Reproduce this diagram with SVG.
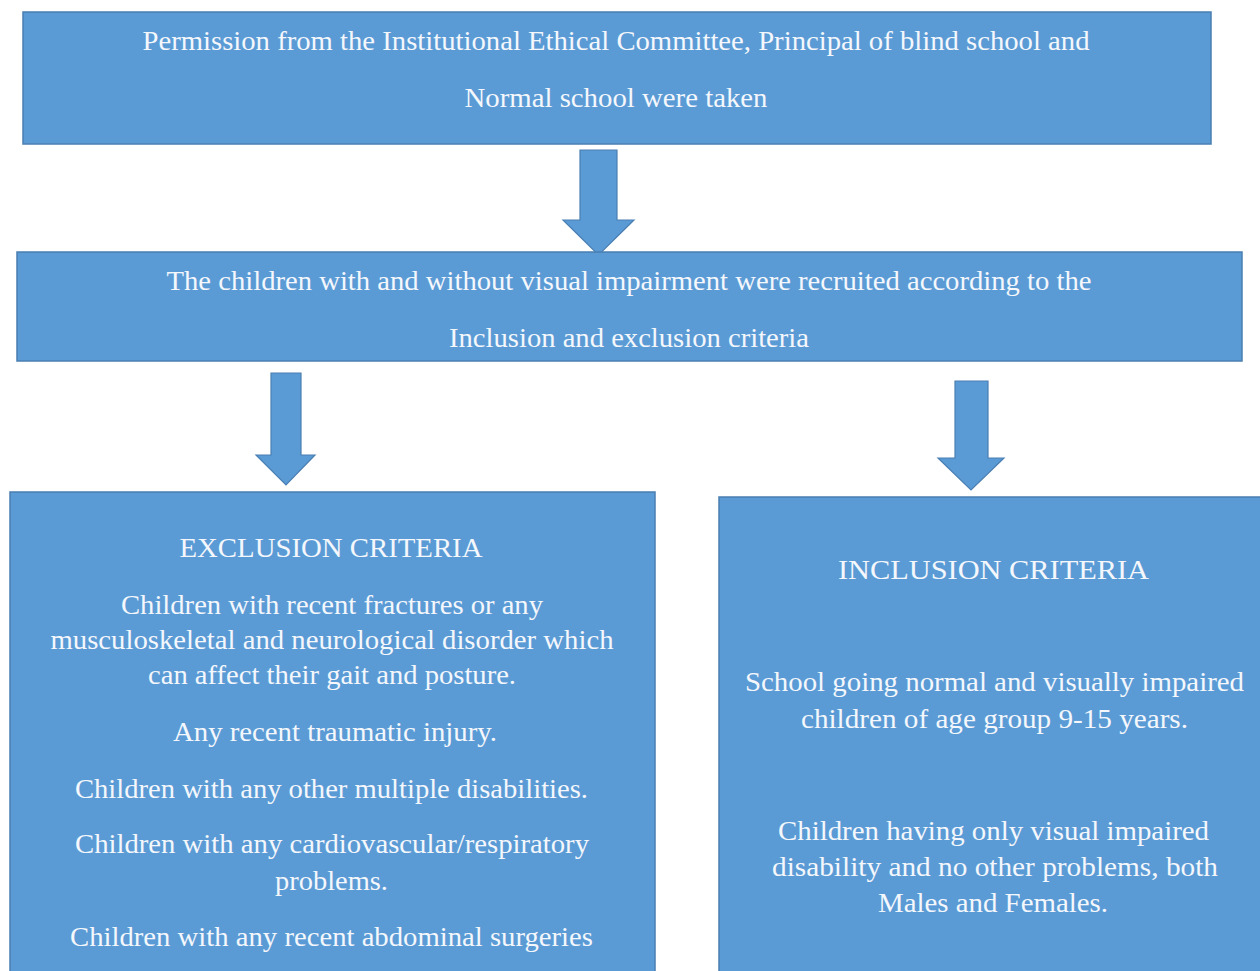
<svg xmlns="http://www.w3.org/2000/svg" width="1260" height="971" viewBox="0 0 1260 971">
  <style>
    .box { fill: #5b9bd5; stroke: #4a7fb3; stroke-width: 1.5; }
    .arrow { fill: #5b9bd5; stroke: #4a7fb3; stroke-width: 1.2; stroke-linejoin: miter; }
    .t { font-family: "Liberation Serif", "Times New Roman", serif; font-size: 27.5px; fill: #f4f7fc; text-anchor: middle; }
  </style>
  <rect width="1260" height="971" fill="#ffffff"/>

  <!-- flow arrows -->
  <g id="connectors">
    <polygon class="arrow" points="580,150 617,150 617,220 634,220 598.5,255 563,220 580,220"/>
    <polygon class="arrow" points="271,373 301,373 301,455 315,455 286,485 256,455 271,455"/>
    <polygon class="arrow" points="955,381 988,381 988,458 1004,458 971,490 938,458 955,458"/>
  </g>

  <g id="permission">
    <rect class="box" x="23" y="12" width="1188" height="132"/>
    <text class="t" x="616" y="50" textLength="947" lengthAdjust="spacingAndGlyphs">Permission from the Institutional Ethical Committee, Principal of blind school and</text>
    <text class="t" x="616" y="107" textLength="303" lengthAdjust="spacingAndGlyphs">Normal school were taken</text>
  </g>

  <g id="recruitment">
    <rect class="box" x="17" y="252" width="1225" height="109"/>
    <text class="t" x="629" y="290" textLength="925" lengthAdjust="spacingAndGlyphs">The children with and without visual impairment were recruited according to the</text>
    <text class="t" x="629" y="347" textLength="360" lengthAdjust="spacingAndGlyphs">Inclusion and exclusion criteria</text>
  </g>

  <g id="exclusion">
    <rect class="box" x="10" y="492" width="645" height="490"/>
    <text class="t" x="331" y="557" textLength="303" lengthAdjust="spacingAndGlyphs">EXCLUSION CRITERIA</text>
    <text class="t" x="332" y="614" textLength="422" lengthAdjust="spacingAndGlyphs">Children with recent fractures or any</text>
    <text class="t" x="332" y="649" textLength="563" lengthAdjust="spacingAndGlyphs">musculoskeletal and neurological disorder which</text>
    <text class="t" x="332" y="684" textLength="368" lengthAdjust="spacingAndGlyphs">can affect their gait and posture.</text>
    <text class="t" x="335" y="741" textLength="324" lengthAdjust="spacingAndGlyphs">Any recent traumatic injury.</text>
    <text class="t" x="331.5" y="798" textLength="513" lengthAdjust="spacingAndGlyphs">Children with any other multiple disabilities.</text>
    <text class="t" x="332" y="853" textLength="514" lengthAdjust="spacingAndGlyphs">Children with any cardiovascular/respiratory</text>
    <text class="t" x="331.5" y="890" textLength="113" lengthAdjust="spacingAndGlyphs">problems.</text>
    <text class="t" x="331.5" y="946" textLength="523" lengthAdjust="spacingAndGlyphs">Children with any recent abdominal surgeries</text>
  </g>

  <g id="inclusion">
    <rect class="box" x="719" y="497" width="560" height="490"/>
    <text class="t" x="993.5" y="579" textLength="311" lengthAdjust="spacingAndGlyphs">INCLUSION CRITERIA</text>
    <text class="t" x="994.5" y="691" textLength="499" lengthAdjust="spacingAndGlyphs">School going normal and visually impaired</text>
    <text class="t" x="994.5" y="728" textLength="387" lengthAdjust="spacingAndGlyphs">children of age group 9-15 years.</text>
    <text class="t" x="993.5" y="840" textLength="431" lengthAdjust="spacingAndGlyphs">Children having only visual impaired</text>
    <text class="t" x="995" y="876" textLength="446" lengthAdjust="spacingAndGlyphs">disability and no other problems, both</text>
    <text class="t" x="993" y="912" textLength="230" lengthAdjust="spacingAndGlyphs">Males and Females.</text>
  </g>
</svg>
